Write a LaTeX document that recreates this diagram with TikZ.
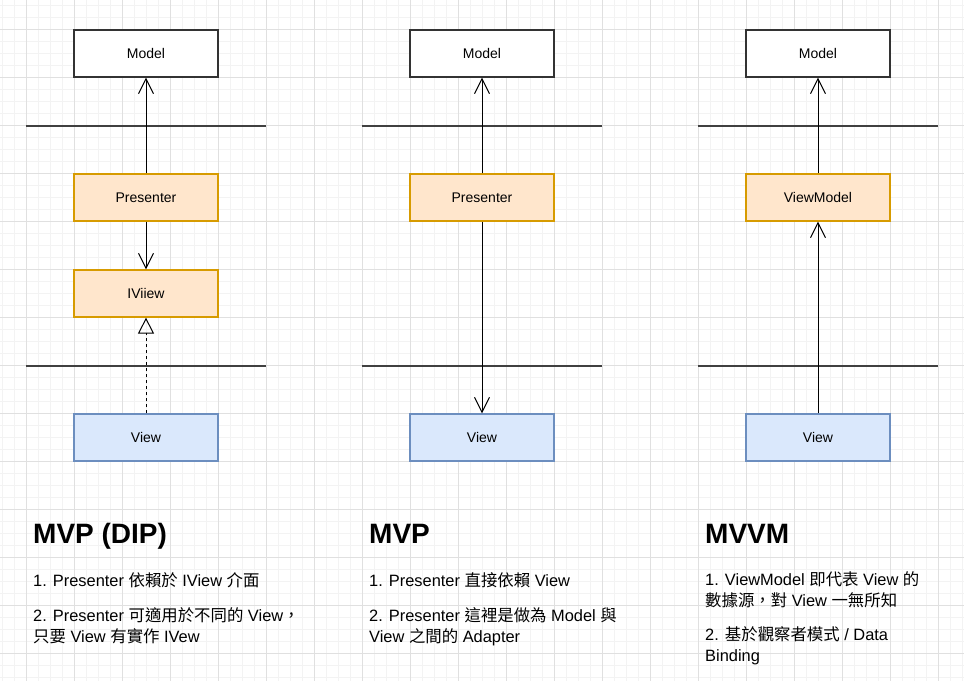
\documentclass[tikz,border=0pt]{standalone}
\usepackage{fontspec}
\setmainfont{Liberation Sans}
\newfontfamily\cjk{Noto Sans CJK TC}
\newcommand{\zh}[1]{{\cjk #1}}
\usetikzlibrary{arrows.meta}

\definecolor{presfill}{HTML}{FFE6CC}
\definecolor{presdraw}{HTML}{D79B00}
\definecolor{viewfill}{HTML}{DAE8FC}
\definecolor{viewdraw}{HTML}{6C8EBF}
\definecolor{gridmajor}{HTML}{E0E0E0}
\definecolor{gridminor}{HTML}{F3F3F3}

\tikzset{
  umlbox/.style={draw, minimum width=144pt, minimum height=47pt, line width=1.2pt,
    font=\fontsize{14}{17}\selectfont},
  modelbox/.style={umlbox, draw=black!80, fill=white},
  presbox/.style={umlbox, draw=presdraw, fill=presfill},
  viewbox/.style={umlbox, draw=viewdraw, fill=viewfill},
  dep/.style={-{Straight Barb[length=15pt,width=15pt]}, line width=1pt},
  realize/.style={-{Triangle[open,length=16pt,width=16pt]}, dash pattern=on 3pt off 3pt, line width=1pt},
  layer/.style={line width=1.3pt, draw=black!75},
  heading/.style={anchor=base west, inner sep=0pt, font=\fontsize{28}{34}\selectfont\bfseries},
  note/.style={anchor=base west, inner sep=0pt, align=left, font=\fontsize{16.4}{20.5}\selectfont},
}

\begin{document}
\begin{tikzpicture}[x=1pt, y=-1pt]
    \useasboundingbox (0,0) rectangle (964,681);

    % Grid
    \foreach \i in {0,...,80} \draw[gridminor, line width=1pt] ({2.7+12*\i},0) -- ++(0,681);
    \foreach \i in {0,...,56} \draw[gridminor, line width=1pt] (0,{5+12*\i}) -- ++(964,0);
    \foreach \i in {0,...,19} \draw[gridmajor, line width=1pt] ({26.7+48*\i},0) -- ++(0,681);
    \foreach \i in {0,...,13} \draw[gridmajor, line width=1pt] (0,{29+48*\i}) -- ++(964,0);

    % Layers
    \foreach \x in {26,362,698} {
        \draw[layer] (\x,126) -- ++(240,0);
        \draw[layer] (\x,366) -- ++(240,0);
    }

    % MVP (DIP)
    \node[modelbox] (model1) at (146,53.5) {Model};
    \node[presbox] (pres1) at (146,197.5) {Presenter};
    \node[presbox] (iview1) at (146,293.5) {IViiew};
    \node[viewbox] (view1) at (146,437.5) {View};
    \draw[dep] (pres1) -- (model1);
    \draw[dep] (pres1) -- (iview1);
    \draw[realize] (view1) -- (iview1);

    % MVP
    \node[modelbox] (model2) at (482,53.5) {Model};
    \node[presbox] (pres2) at (482,197.5) {Presenter};
    \node[viewbox] (view2) at (482,437.5) {View};
    \draw[dep] (pres2) -- (model2);
    \draw[dep] (pres2) -- (view2);

    % MVVM
    \node[modelbox] (model3) at (818,53.5) {Model};
    \node[presbox] (vm3) at (818,197.5) {ViewModel};
    \node[viewbox] (view3) at (818,437.5) {View};
    \draw[dep] (vm3) -- (model3);
    \draw[dep] (view3) -- (vm3);

    % Texts (base of a wrapped note = its last line)
    \node[heading] (title1) at (33,543) {MVP (DIP)};
    \node[note] (note1a) at (33,586) {1. Presenter \zh{依賴於} IView \zh{介面}};
    \node[note] (note1b) at (33,642) {2. Presenter \zh{可適用於不同的} View\zh{，}\\\zh{只要} View \zh{有實作} IVew};

    \node[heading] (title2) at (369,543) {MVP};
    \node[note] (note2a) at (369,586) {1. Presenter \zh{直接依賴} View};
    \node[note] (note2b) at (369,642) {2. Presenter \zh{這裡是做為} Model \zh{與}\\View \zh{之間的} Adapter};

    \node[heading] (title3) at (705,543) {MVVM};
    \node[note] (note3a) at (705,606) {1. ViewModel \zh{即代表} View \zh{的}\\\zh{數據源，對} View \zh{一無所知}};
    \node[note] (note3b) at (705,661) {2. \zh{基於觀察者模式} / Data\\Binding};
\end{tikzpicture}
\end{document}
